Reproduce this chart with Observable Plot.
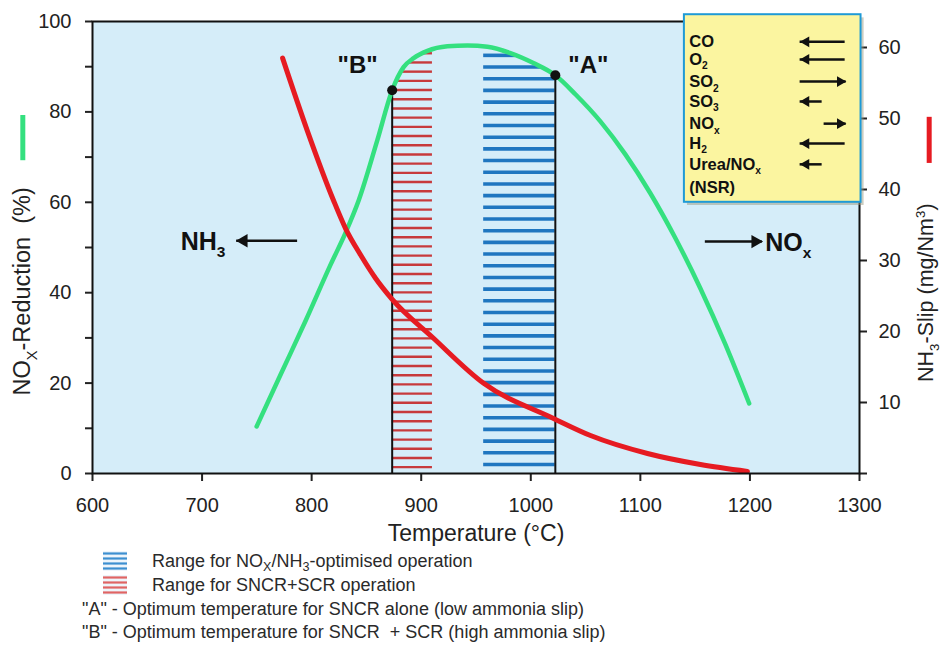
<!DOCTYPE html>
<html><head><meta charset="utf-8">
<script src="https://cdn.jsdelivr.net/npm/d3@7"></script>
<script src="https://cdn.jsdelivr.net/npm/@observablehq/plot@0.6"></script>
<style>
body{margin:0;background:#fff;font-family:"Liberation Sans",Arial,sans-serif;}
#wrap{position:relative;width:941px;height:659px;overflow:hidden;}
.row{position:absolute;font-size:18px;color:#2a2a2a;white-space:pre;line-height:22px;}
.row sub{font-size:70%;vertical-align:-4px;line-height:0;}
.sw{position:absolute;}
</style></head><body><div id="wrap"><div id="chart"></div><div id="legend"></div></div>
<script>
// ---- data ----
// NOx reduction (%), left axis
const greenT = [749.8, 771.7, 794.5, 817.3, 831.0, 842.9, 859.9, 873.5, 883.9, 893.1, 905.7, 923.9, 942.2, 960.4, 981.4, 1002.4, 1022.4, 1040.7, 1063.5, 1086.3, 1109.1, 1131.9, 1154.7, 1177.5, 1199.3];
const greenV = [10.4, 21.9, 33.8, 46.2, 53.3, 60.4, 73.7, 84.8, 89.9, 91.9, 93.5, 94.5, 94.7, 94.4, 93.0, 90.8, 88.1, 83.9, 77.9, 70.6, 62.0, 52.1, 41.0, 28.6, 15.5];
// NH3 slip (mg/Nm3), right axis
const redT = [773.5, 796, 820, 831, 844.6, 858.3, 873.1, 910.5, 957, 1020.8, 1054.5, 1106.5, 1154.8, 1197.7];
const redS = [58.5, 48.3, 38.45, 34.5, 30.8, 27.5, 24.6, 19.15, 12.7, 7.75, 5.35, 2.82, 1.27, 0.3];
// optimum points "B" and "A"
const optimumNames = ['"B"', '"A"'];
const optimumT = [873.5, 1022.4];
const optimumV = [84.8, 88.1];
// operating ranges (temperature)
const sncrScrRange = [873.5, 910.3];
const optimisedRange = [957, 1022.4];
// axis ticks
const xTicks = [600, 700, 800, 900, 1000, 1100, 1200, 1300];
const leftTicks = [0, 10, 20, 30, 40, 50, 60, 70, 80, 90, 100];
const rightTicks = [0, 10, 20, 30, 40, 50, 60];
const rightMax = 63.66;
// influence table
const boxNames = ["CO", "O_2", "SO_2", "SO_3", "NO_x", "H_2", "Urea/NO_x", "(NSR)"];
const boxDir = [-1, -1, 1, -1, 1, -1, -1, 0];
const boxLong = [1, 1, 1, 0, 0, 1, 0, 0];

// ---- build ----
const K = 100 / rightMax;
const green = greenT.map((T, i) => ({T, v: greenV[i]}));
const red = redT.map((T, i) => ({T, v: redS[i] * K}));
const optima = optimumT.map((T, i) => ({T, v: optimumV[i], name: optimumNames[i]}));

function greenAt(T) {
  const i = d3.bisectRight(greenT, T);
  if (i <= 0) return greenV[0];
  if (i >= greenT.length) return greenV[greenV.length - 1];
  const t = (T - greenT[i - 1]) / (greenT[i] - greenT[i - 1]);
  return greenV[i - 1] + t * (greenV[i] - greenV[i - 1]);
}
function hatch([a, b], start, step) {
  const out = [];
  for (let v = start; v < 100; v += step) {
    let x1 = null, x2 = null;
    for (let T = a; T <= b + 1e-9; T += 0.25) {
      if (greenAt(T) >= v) { if (x1 === null) x1 = T; x2 = T; }
    }
    if (x1 !== null) out.push({v, x1, x2});
  }
  return out;
}
const redHatch = hatch(sncrScrRange, 1.4, 2.035);
const blueHatch = hatch(optimisedRange, 2.0, 2.586);

// influence box layout (in data units)
const rowV = [95.5, 91.6, 86.7, 82.3, 77.4, 73.0, 68.4, 63.3];
const boxRows = boxNames.map((name, i) => ({name, v: rowV[i], dir: boxDir[i], long: boxLong[i]}));
const boxArrows = boxRows.filter(d => d.dir !== 0).map(d => {
  let tail, head;
  if (d.dir < 0) { head = 1245.8; tail = d.long ? 1286.9 : 1265.9; }
  else { head = 1287.8; tail = d.long ? 1245.8 : 1267.7; }
  return {v: d.v, tail, head, dir: d.dir};
});
const bigArrows = [
  {v: 51.5, tail: 787.2, head: 731.6, dir: -1},
  {v: 51.3, tail: 1159.3, head: 1211.3, dir: 1}
];

const GREEN = "#34e07f", RED = "#e61b22";
const font = "Liberation Sans, Arial, sans-serif";

const plot = Plot.plot({
  width: 941, height: 545,
  marginLeft: 92, marginRight: 82, marginTop: 21, marginBottom: 72,
  x: {domain: [600, 1300]},
  y: {domain: [0, 100]},
  style: {fontFamily: font, fontSize: "20px", color: "#222", background: "white", overflow: "visible"},
  marks: [
    Plot.frame({fill: "#d5edf9"}),
    Plot.ruleY(redHatch, {y: "v", x1: "x1", x2: "x2", stroke: "#c73a3c", strokeWidth: 2.4}),
    Plot.ruleY(blueHatch, {y: "v", x1: "x1", x2: "x2", stroke: "#1f76c0", strokeWidth: 3.6}),
    Plot.ruleX(optima, {x: "T", y1: 0, y2: "v", stroke: "#111", strokeWidth: 2}),
    Plot.line(green, {x: "T", y: "v", stroke: GREEN, strokeWidth: 4.5, curve: "monotone-x"}),
    Plot.line(red, {x: "T", y: "v", stroke: RED, strokeWidth: 5, curve: "monotone-x"}),
    Plot.dot(optima, {x: "T", y: "v", r: 5, fill: "#111"}),
    Plot.axisX({ticks: xTicks, tickFormat: d => String(d), tickSize: 8, tickPadding: 16, strokeWidth: 2, label: null}),
    Plot.axisY({ticks: leftTicks, tickFormat: d => d % 20 === 0 ? String(d) : "", tickSize: 7, tickPadding: 14, strokeWidth: 2, label: null}),
    Plot.axisY({anchor: "right", ticks: rightTicks.map(r => r * K), tickFormat: d => { const r = Math.round(d / K); return r === 0 ? "" : String(r); }, tickSize: 7, tickPadding: 12, strokeWidth: 2, label: null}),
    Plot.frame({stroke: "#111", strokeWidth: 2}),
    // axis titles
    Plot.text(["Temperature (°C)"], {x: 950, y: -13.2, fontSize: 23, fill: "#222"}),
    Plot.text(["NO_X-Reduction\u00a0 (%)"], {x: 536.4, y: 40.3, rotate: -90, fontSize: 23.5, fill: "#222"}),
    Plot.text(["NH_3-Slip (mg/Nm^3)"], {x: 1360.8, y: 40.0, rotate: -90, fontSize: 21.5, fill: "#222"}),
    Plot.ruleX([{x: 536.4, y1: 69.2, y2: 79.2}], {x: "x", y1: "y1", y2: "y2", stroke: GREEN, strokeWidth: 5}),
    Plot.ruleX([{x: 1363.6, y1: 68.6, y2: 78.8}], {x: "x", y1: "y1", y2: "y2", stroke: RED, strokeWidth: 5}),
    // optimum labels
    Plot.text(optima, {x: d => d.T + (d.name === '"B"' ? -31.6 : 30.2), y: 90.2, text: "name", fontSize: 24, fontWeight: "bold", fill: "#111", letterSpacing: 1}),
    // NH3 / NOx arrows
    Plot.ruleY(bigArrows, {y: "v", x1: "tail", x2: "head", stroke: "#111", strokeWidth: 2.5}),
    Plot.dot(bigArrows.filter(d => d.dir < 0), {x: "head", y: "v", symbol: "triangle", rotate: -90, r: 5, dx: 7, fill: "#111", stroke: "none"}),
    Plot.dot(bigArrows.filter(d => d.dir > 0), {x: "head", y: "v", symbol: "triangle", rotate: 90, r: 5, dx: -7, fill: "#111", stroke: "none"}),
    Plot.text(["NH_3"], {x: 680.5, y: 51.3, textAnchor: "start", fontSize: 25, fontWeight: "bold", fill: "#111"}),
    Plot.text(["NO_x"], {x: 1213.9, y: 50.9, textAnchor: "start", fontSize: 25, fontWeight: "bold", fill: "#111"}),
    // influence box
    Plot.rect([{}], {x1: 1143, x2: 1304.2, y1: 59.3, y2: 100.8, fill: "#9a9a80", fillOpacity: 0.5}),
    Plot.rect([{}], {x1: 1140.2, x2: 1301.4, y1: 60.0, y2: 101.5, fill: "#fbf5a0", stroke: "#1e9ad6", strokeWidth: 2}),
    Plot.text(boxRows, {x: 1144.6, y: "v", text: "name", textAnchor: "start", fontSize: 16.5, fontWeight: "bold", fill: "#111"}),
    Plot.ruleY(boxArrows, {y: "v", x1: "tail", x2: "head", stroke: "#111", strokeWidth: 2.5}),
    Plot.dot(boxArrows.filter(d => d.dir < 0), {x: "head", y: "v", symbol: "triangle", rotate: -90, r: 4, dx: 6, fill: "#111", stroke: "none"}),
    Plot.dot(boxArrows.filter(d => d.dir > 0), {x: "head", y: "v", symbol: "triangle", rotate: 90, r: 4, dx: -6, fill: "#111", stroke: "none"})
  ]
});

// sub/superscript markup: _x or ^x
function richify(svg) {
  const ns = "http://www.w3.org/2000/svg";
  svg.querySelectorAll("text").forEach(t => {
    if (t.querySelector("tspan")) return;
    const s = t.textContent;
    if (!/[_^]/.test(s)) return;
    const fs = parseFloat(getComputedStyle(t).fontSize) || 16;
    t.textContent = "";
    const re = /([_^])(.)/g;
    let last = 0, m, pending = 0;
    const add = (txt, attrs) => {
      const sp = document.createElementNS(ns, "tspan");
      sp.textContent = txt;
      for (const k in attrs) sp.setAttribute(k, attrs[k]);
      t.appendChild(sp);
      return sp;
    };
    while ((m = re.exec(s))) {
      if (m.index > last) { add(s.slice(last, m.index), pending ? {dy: pending} : {}); pending = 0; }
      const shift = m[1] === "_" ? 0.28 * fs : -0.38 * fs;
      add(m[2], {dy: pending + shift, "font-size": (0.62 * fs) + "px"});
      pending = -shift;
      last = re.lastIndex;
    }
    if (last < s.length) add(s.slice(last), pending ? {dy: pending} : {});
  });
}
document.getElementById("chart").appendChild(plot);
richify(plot);

// legend below the chart
const legendRows = [
  {html: 'Range for NO<sub>X</sub>/NH<sub>3</sub>-optimised operation', left: 152, top: 550, swatch: "#3d8fd0"},
  {html: 'Range for SNCR+SCR operation', left: 152, top: 574, swatch: "#e06464"},
  {html: '"A" - Optimum temperature for SNCR alone (low ammonia slip)', left: 82, top: 598},
  {html: '"B" - Optimum temperature for SNCR  + SCR (high ammonia slip)', left: 82, top: 621}
];
const leg = document.getElementById("legend");
legendRows.forEach(r => {
  const d = document.createElement("div");
  d.className = "row"; d.style.left = r.left + "px"; d.style.top = r.top + "px";
  d.innerHTML = r.html; leg.appendChild(d);
  if (r.swatch) {
    const sw = document.createElementNS("http://www.w3.org/2000/svg", "svg");
    sw.setAttribute("class", "sw"); sw.setAttribute("width", 24); sw.setAttribute("height", 20);
    sw.style.left = "103px"; sw.style.top = (r.top + 1) + "px";
    sw.innerHTML = `<rect width="24" height="20" fill="#eef5fb"/>` + [2.5, 7.5, 12.5, 17.5].map(y => `<line x1="0" x2="24" y1="${y}" y2="${y}" stroke="${r.swatch}" stroke-width="2.2"/>`).join("");
    leg.appendChild(sw);
  }
});
</script></body></html>
